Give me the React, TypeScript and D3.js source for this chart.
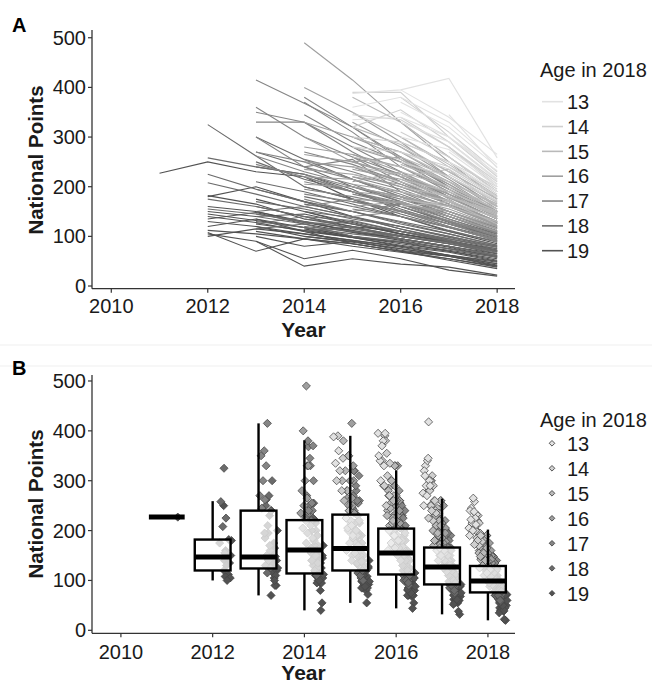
import React from "react";
import * as d3 from "d3";

// grey levels per "age in 2018"
const ages = [13, 14, 15, 16, 17, 18, 19];
const ageColors = ["#e2e2e2", "#d0d0d0", "#b9b9b9", "#9f9f9f", "#858585", "#6b6b6b", "#525252"];
const xTicks = [2010, 2012, 2014, 2016, 2018];
const yTicks = [0, 100, 200, 300, 400, 500];

// each row: first season, then national points for that season and the following ones
const age19 = [
  [2011, 227, 250, 230, 220, 175, 140, 110, 85],
  [2012, 182, 165, 135, 120, 100, 85, 65],
  [2012, 160, 150, 128, 112, 95, 78, 58],
  [2012, 150, 140, 145, 125, 105, 88, 70],
  [2012, 145, 132, 118, 100, 88, 70, 52],
  [2012, 140, 128, 110, 98, 80, 62, 45],
  [2012, 135, 148, 125, 108, 92, 75, 60],
  [2012, 130, 120, 100, 90, 75, 60, 42],
  [2012, 180, 200, 170, 140, 115, 92, 72],
  [2012, 112, 105, 95, 80, 68, 55, 38],
  [2012, 108, 70, 95, 85, 70, 55, 40],
  [2012, 105, 90, 55, 72, 55, 32, 20],
  [2012, 100, 115, 105, 92, 78, 62, 48],
  [2012, 120, 135, 110, 85, 70, 52, 35],
  [2013, 90, 40, 55, 44, 38, 22],
  [2013, 150, 130, 110, 95, 80, 62],
  [2013, 120, 105, 92, 80, 68, 50],
  [2013, 175, 150, 125, 105, 88, 70],
  [2013, 135, 118, 100, 85, 72, 58],
  [2013, 110, 95, 85, 70, 60, 45],
  [2013, 160, 140, 120, 110, 90, 75],
  [2013, 125, 112, 98, 88, 75, 60],
  [2013, 100, 80, 90, 72, 60, 40],
  [2014, 130, 110, 95, 80, 65],
  [2014, 150, 128, 105, 90, 72],
  [2014, 100, 88, 75, 62, 50],
  [2014, 115, 98, 82, 70, 55],
];

const age18 = [
  [2012, 325, 262, 200, 175, 145, 118, 92],
  [2012, 258, 240, 225, 190, 155, 125, 98],
  [2012, 225, 195, 170, 150, 125, 105, 82],
  [2012, 208, 185, 160, 140, 120, 100, 80],
  [2012, 175, 160, 140, 132, 110, 92, 70],
  [2012, 155, 145, 128, 118, 100, 85, 66],
  [2013, 300, 255, 215, 180, 140, 110],
  [2013, 270, 240, 200, 170, 135, 105],
  [2013, 250, 215, 190, 160, 128, 100],
  [2013, 240, 225, 195, 150, 120, 95],
  [2013, 210, 190, 165, 140, 112, 88],
  [2013, 195, 170, 150, 128, 105, 82],
  [2013, 170, 155, 135, 120, 98, 78],
  [2013, 150, 160, 140, 115, 95, 75],
  [2013, 145, 130, 118, 102, 85, 68],
  [2013, 140, 125, 130, 110, 90, 72],
  [2013, 130, 118, 105, 95, 80, 62],
  [2013, 125, 140, 115, 100, 85, 70],
  [2013, 115, 125, 100, 90, 75, 58],
  [2014, 180, 160, 140, 118, 92],
  [2014, 165, 150, 130, 110, 90],
  [2014, 150, 138, 120, 100, 80],
  [2014, 220, 190, 160, 130, 105],
  [2014, 135, 125, 110, 95, 78],
  [2014, 120, 110, 100, 88, 70],
  [2014, 200, 175, 150, 125, 100],
  [2014, 110, 120, 95, 80, 60],
];

const age17 = [
  [2013, 415, 368, 320, 255, 200, 150],
  [2013, 360, 300, 260, 210, 165, 125],
  [2013, 350, 330, 280, 230, 180, 135],
  [2013, 330, 330, 270, 220, 170, 130],
  [2013, 300, 240, 255, 190, 150, 118],
  [2013, 270, 250, 215, 180, 145, 112],
  [2013, 262, 230, 205, 170, 140, 108],
  [2013, 245, 220, 190, 165, 135, 102],
  [2014, 380, 320, 260, 200, 150],
  [2014, 370, 310, 240, 190, 140],
  [2014, 345, 290, 250, 195, 148],
  [2014, 270, 245, 210, 170, 128],
  [2014, 255, 230, 200, 165, 125],
  [2014, 240, 215, 185, 150, 118],
  [2014, 225, 200, 175, 145, 110],
  [2014, 210, 190, 168, 140, 106],
  [2014, 195, 180, 160, 132, 100],
  [2014, 185, 170, 150, 125, 96],
  [2014, 160, 175, 150, 120, 90],
  [2014, 175, 150, 165, 130, 88],
  [2015, 260, 225, 180, 135],
  [2015, 240, 205, 170, 128],
  [2015, 220, 195, 160, 122],
  [2015, 200, 180, 150, 115],
  [2015, 185, 165, 140, 108],
  [2015, 170, 152, 130, 100],
  [2015, 155, 140, 118, 92],
  [2015, 140, 150, 125, 95],
];

const age16 = [
  [2014, 490, 415, 330, 250, 175],
  [2014, 400, 350, 290, 220, 160],
  [2014, 330, 300, 260, 205, 150],
  [2014, 300, 250, 260, 185, 150],
  [2014, 280, 265, 230, 185, 140],
  [2014, 265, 250, 220, 178, 135],
  [2014, 250, 240, 210, 172, 130],
  [2014, 235, 225, 200, 165, 128],
  [2014, 220, 215, 190, 160, 125],
  [2014, 205, 200, 180, 150, 120],
  [2015, 330, 280, 220, 160],
  [2015, 300, 270, 215, 155],
  [2015, 280, 250, 205, 150],
  [2015, 265, 240, 195, 145],
  [2015, 250, 225, 185, 140],
  [2015, 235, 215, 178, 135],
  [2015, 220, 205, 170, 130],
  [2015, 205, 190, 162, 125],
  [2015, 190, 180, 155, 120],
  [2015, 175, 168, 145, 115],
  [2015, 160, 170, 140, 110],
  [2015, 210, 230, 175, 120],
  [2016, 260, 210, 150],
  [2016, 240, 195, 142],
  [2016, 220, 185, 138],
  [2016, 200, 170, 130],
  [2016, 180, 160, 122],
  [2016, 165, 150, 115],
];

const age15 = [
  [2015, 380, 330, 260, 190],
  [2015, 350, 300, 240, 180],
  [2015, 320, 285, 230, 175],
  [2015, 300, 270, 220, 170],
  [2015, 280, 255, 210, 165],
  [2015, 260, 240, 200, 160],
  [2015, 240, 225, 190, 150],
  [2015, 225, 210, 180, 145],
  [2016, 330, 260, 190],
  [2016, 300, 245, 182],
  [2016, 280, 230, 175],
  [2016, 260, 220, 168],
  [2016, 245, 210, 162],
  [2016, 230, 200, 155],
  [2016, 215, 190, 150],
  [2016, 200, 180, 142],
  [2016, 190, 172, 136],
  [2016, 175, 160, 130],
  [2016, 160, 170, 125],
  [2016, 220, 235, 160],
  [2017, 230, 175],
  [2017, 210, 165],
  [2017, 195, 155],
  [2017, 180, 148],
  [2017, 165, 140],
];

const age14 = [
  [2015, 390, 390, 300, 220],
  [2015, 345, 335, 280, 210],
  [2015, 320, 355, 290, 215],
  [2015, 300, 290, 250, 200],
  [2015, 280, 270, 240, 190],
  [2016, 380, 310, 230],
  [2016, 340, 280, 205],
  [2016, 310, 260, 195],
  [2016, 290, 250, 185],
  [2016, 270, 235, 178],
  [2016, 250, 220, 170],
  [2017, 280, 200],
  [2017, 260, 190],
  [2017, 240, 180],
  [2017, 225, 172],
];

const age13 = [
  [2015, 388, 395, 418, 258],
  [2015, 360, 380, 330, 245],
  [2015, 335, 340, 300, 232],
  [2016, 395, 340, 265],
  [2016, 370, 320, 240],
  [2016, 350, 300, 225],
  [2016, 330, 290, 215],
  [2016, 300, 275, 205],
  [2017, 345, 238],
  [2017, 310, 222],
  [2017, 290, 212],
  [2017, 270, 200],
  [2017, 250, 190],
];

// boxplot statistics per season
const boxYears = [2011, 2012, 2013, 2014, 2015, 2016, 2017, 2018];
const boxLow = [227, 100, 70, 40, 55, 44, 32, 20];
const boxQ1 = [227, 120, 124, 114, 120, 112, 92, 76];
const boxMedian = [227, 147, 147, 161, 164, 155, 127, 99];
const boxQ3 = [227, 182, 240, 221, 232, 204, 166, 129];
const boxHigh = [227, 259, 415, 381, 390, 321, 264, 202];

const groups = [
  { age: 19, rows: age19 },
  { age: 18, rows: age18 },
  { age: 17, rows: age17 },
  { age: 16, rows: age16 },
  { age: 15, rows: age15 },
  { age: 14, rows: age14 },
  { age: 13, rows: age13 },
];

const athletes = groups.flatMap((g) =>
  g.rows.map((r) => ({
    age: g.age,
    pts: r.slice(1).map((v, i) => ({ year: r[0] + i, value: v })),
  }))
);

const color = d3.scaleOrdinal<number, string>().domain(ages).range(ageColors);
const font = "'Liberation Sans', Arial, sans-serif";
const axisCol = "#333";

function Axes({ x, y, tickLabelY, titleY, ylabelY }) {
  const [x0, x1] = x.range();
  const [yb, yt] = y.range();
  return (
    <g fontFamily={font} fill="#1a1a1a">
      <line x1={x0} x2={x1} y1={yb} y2={yb} stroke={axisCol} strokeWidth={1.3} />
      <line x1={x0} x2={x0} y1={yb} y2={yt} stroke={axisCol} strokeWidth={1.3} />
      {xTicks.map((t) => (
        <g key={t}>
          <line x1={x(t)} x2={x(t)} y1={yb} y2={yb + 4} stroke={axisCol} strokeWidth={1.2} />
          <text x={x(t)} y={tickLabelY} textAnchor="middle" fontSize={20}>{t}</text>
        </g>
      ))}
      {yTicks.map((t) => (
        <g key={t}>
          <line x1={x0 - 4} x2={x0} y1={y(t)} y2={y(t)} stroke={axisCol} strokeWidth={1.2} />
          <text x={x0 - 6} y={y(t)} dy="0.35em" textAnchor="end" fontSize={20}>{t}</text>
        </g>
      ))}
      <text x={(x0 + x1) / 2} y={titleY} textAnchor="middle" fontSize={21} fontWeight="bold">Year</text>
      <text
        transform={`translate(43,${ylabelY}) rotate(-90)`}
        textAnchor="middle"
        fontSize={20.5}
        fontWeight="bold"
      >
        National Points
      </text>
    </g>
  );
}

function PanelA() {
  const x = d3.scaleLinear().domain([2009.6, 2018.37]).range([92, 515]);
  const y = d3.scaleLinear().domain([-5.4, 515.6]).range([288.7, 30]);
  const line = d3
    .line<{ year: number; value: number }>()
    .x((d) => x(d.year))
    .y((d) => y(d.value));
  const leg = d3.scalePoint<number>().domain(ages).range([101.7, 250.7]);
  return (
    <g>
      <text x={12} y={32} fontFamily={font} fontSize={20} fontWeight="bold">A</text>
      {athletes.map((a, i) => (
        <path key={i} d={line(a.pts) ?? ""} fill="none" stroke={color(a.age)} strokeWidth={1.1} />
      ))}
      <Axes x={x} y={y} tickLabelY={313} titleY={336.5} ylabelY={160} />
      <g fontFamily={font} fill="#1a1a1a">
        <text x={540} y={77} fontSize={20}>Age in 2018</text>
        {ages.map((a) => (
          <g key={a}>
            <line x1={542} x2={563} y1={leg(a)} y2={leg(a)} stroke={color(a)} strokeWidth={1.6} />
            <text x={567} y={leg(a)} dy="0.36em" fontSize={20}>{a}</text>
          </g>
        ))}
      </g>
    </g>
  );
}

function PanelB() {
  const x = d3.scaleLinear().domain([2009.37, 2018.59]).range([92, 515]);
  const y = d3.scaleLinear().domain([-6, 512]).range([633.3, 375]);
  const diamond = d3.symbol(d3.symbolDiamond2, 42)() ?? "";
  const smallDiamond = d3.symbol(d3.symbolDiamond2, 20)() ?? "";
  const perYear = new Map<number, number>();
  const points = athletes.flatMap((a) =>
    a.pts.map((p) => {
      const k = perYear.get(p.year) ?? 0;
      perYear.set(p.year, k + 1);
      // dodge by age, plus a small even spread inside each age column
      const spread = ((k * 0.618034) % 1) - 0.5;
      return { ...p, age: a.age, xo: p.year + (a.age - 16) * 0.11 + spread * 0.18 };
    })
  );
  const bw = 0.78;
  const leg = d3.scalePoint<number>().domain(ages).range([443.3, 593.3]);
  return (
    <g>
      <text x={12} y={375} fontFamily={font} fontSize={20} fontWeight="bold">B</text>
      {points.map((p, i) => (
        <path
          key={i}
          d={diamond}
          transform={`translate(${x(p.xo)},${y(p.value)})`}
          fill={color(p.age)}
          stroke="#444"
          strokeWidth={0.9}
          strokeOpacity={0.85}
        />
      ))}
      {boxYears.map((yr, i) => {
        const xl = x(yr - bw / 2);
        const xr = x(yr + bw / 2);
        const xc = x(yr);
        return (
          <g key={yr}>
            <line x1={xc} x2={xc} y1={y(boxQ3[i])} y2={y(boxHigh[i])} stroke="#000" strokeWidth={2.4} />
            <line x1={xc} x2={xc} y1={y(boxQ1[i])} y2={y(boxLow[i])} stroke="#000" strokeWidth={2.4} />
            <rect
              x={xl}
              y={y(boxQ3[i])}
              width={xr - xl}
              height={y(boxQ1[i]) - y(boxQ3[i])}
              fill="#fff"
              fillOpacity={0.72}
              stroke="#000"
              strokeWidth={2.4}
            />
            <line x1={xl} x2={xr} y1={y(boxMedian[i])} y2={y(boxMedian[i])} stroke="#000" strokeWidth={5} />
          </g>
        );
      })}
      <Axes x={x} y={y} tickLabelY={659} titleY={680} ylabelY={504} />
      <g fontFamily={font} fill="#1a1a1a">
        <text x={540} y={426.5} fontSize={20}>Age in 2018</text>
        {ages.map((a) => (
          <g key={a}>
            <path
              d={smallDiamond}
              transform={`translate(552,${leg(a)})`}
              fill={color(a)}
              stroke="#444"
              strokeWidth={0.9}
            />
            <text x={567} y={leg(a)} dy="0.36em" fontSize={20}>{a}</text>
          </g>
        ))}
      </g>
    </g>
  );
}

export default function App() {
  return (
    <svg
      width={652}
      height={681}
      style={{ position: "absolute", left: 0, top: 0, background: "#fff" }}
    >
      <rect width={652} height={681} fill="#fff" />
      <line x1={0} x2={652} y1={345} y2={345} stroke="#efefef" />
      <line x1={0} x2={652} y1={366} y2={366} stroke="#efefef" />
      <PanelA />
      <PanelB />
    </svg>
  );
}
